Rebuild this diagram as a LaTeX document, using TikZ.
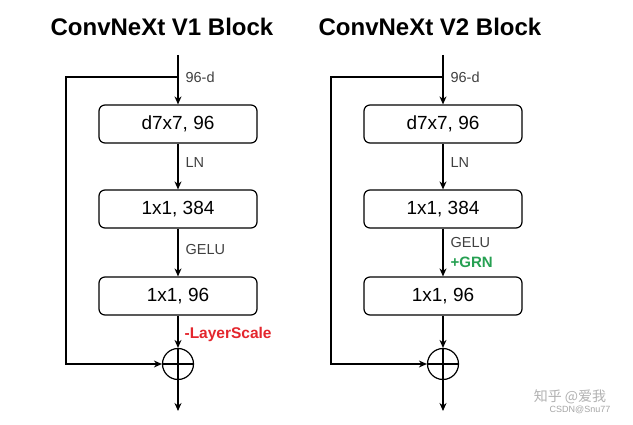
\documentclass[tikz,border=0pt]{standalone}
\usepackage{fontspec}
\setmainfont{Liberation Sans}
\newfontfamily\cjkfont{Noto Sans CJK SC}
\usetikzlibrary{arrows.meta}

\definecolor{lsred}{RGB}{228,38,45}
\definecolor{grngreen}{RGB}{38,160,82}

\tikzset{
  layer/.style={draw, rounded corners=6pt, minimum width=158pt, minimum height=38pt,
    inner sep=0pt, font=\fontsize{19}{21}\selectfont},
  title/.style={font=\fontsize{24}{26}\selectfont\bfseries, inner sep=0pt},
  lbl/.style={anchor=west, inner sep=0pt, text=black!75, font=\fontsize{14.5}{16}\selectfont},
  addop/.style={draw, circle, minimum size=31pt, inner sep=0pt},
  flow/.style={-{Stealth[length=8pt,width=7pt]}},
}

\begin{document}
\begin{tikzpicture}[x=1pt, y=-1pt, line width=1.2pt]
    \useasboundingbox[fill=white] (0,0) rectangle (633,425);

    % Titles
    \node[title] (t1) at (162,27) {ConvNeXt V1 Block};
    \node[title] (t2) at (430,27) {ConvNeXt V2 Block};

    % V1 block
    \coordinate (v1in) at (178,55);
    \coordinate (v1split) at (178,77);
    \coordinate (v1skip) at (66,77);
    \node[layer] (v1dw) at (178,124) {d7x7, 96};
    \node[layer] (v1pw1) at (178,209) {1x1, 384};
    \node[layer] (v1pw2) at (178,296) {1x1, 96};
    \node[addop] (v1add) at (178,364) {};
    \coordinate (v1out) at (178,411);

    \node[lbl] (v1dim) at (185,77) {96-d};
    \node[lbl] (v1ln) at (185,163) {LN};
    \node[lbl] (v1act) at (185,250) {GELU};
    \node[lbl, text=lsred, font=\fontsize{15.5}{17}\selectfont\bfseries] (v1ls) at (184,334) {-LayerScale};

    \draw[flow] (v1in) -- (v1dw);
    \draw[flow] (v1dw) -- (v1pw1);
    \draw[flow] (v1pw1) -- (v1pw2);
    \draw[flow] (v1pw2) -- (v1add);
    \draw (v1add.west) -- (v1add.east);
    \draw (v1add.north) -- (v1add.south);
    \draw[flow] (v1add) -- (v1out);
    \draw[flow] (v1split) -- (v1skip) |- (v1add);

    % V2 block
    \coordinate (v2in) at (443,55);
    \coordinate (v2split) at (443,77);
    \coordinate (v2skip) at (331,77);
    \node[layer] (v2dw) at (443,124) {d7x7, 96};
    \node[layer] (v2pw1) at (443,209) {1x1, 384};
    \node[layer] (v2pw2) at (443,296) {1x1, 96};
    \node[addop] (v2add) at (443,364) {};
    \coordinate (v2out) at (443,411);

    \node[lbl] (v2dim) at (450,77) {96-d};
    \node[lbl] (v2ln) at (450,163) {LN};
    \node[lbl] (v2act) at (450,243) {GELU};
    \node[lbl, text=grngreen, font=\fontsize{15}{17}\selectfont\bfseries] (v2grn) at (450,262) {+GRN};

    \draw[flow] (v2in) -- (v2dw);
    \draw[flow] (v2dw) -- (v2pw1);
    \draw[flow] (v2pw1) -- (v2pw2);
    \draw[flow] (v2pw2) -- (v2add);
    \draw (v2add.west) -- (v2add.east);
    \draw (v2add.north) -- (v2add.south);
    \draw[flow] (v2add) -- (v2out);
    \draw[flow] (v2split) -- (v2skip) |- (v2add);

    % watermark
    \node[text=black!30, font=\cjkfont\fontsize{14}{16}\selectfont, inner sep=0pt] (wm1) at (570,397) {知乎 @爱我};
    \node[text=black!35, font=\fontsize{9}{10}\selectfont, inner sep=0pt] (wm2) at (580,410) {CSDN@Snu77};
\end{tikzpicture}
\end{document}
